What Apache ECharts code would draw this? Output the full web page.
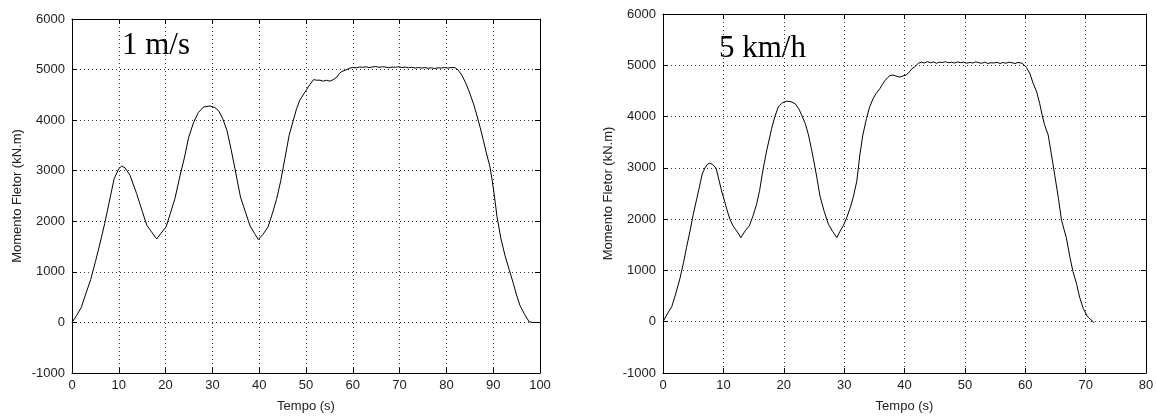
<!DOCTYPE html>
<html>
<head>
<meta charset="utf-8">
<script src="https://cdn.jsdelivr.net/npm/echarts@6/dist/echarts.min.js"></script>
<style>
html,body{margin:0;padding:0;background:#fff;}
#c{width:1157px;height:418px;}
</style>
</head>
<body>
<div id="c"></div>
<script>
// ---- Data: 1 m/s (left) ----
const timeA = [0,1,2,3,4,5,6,7,8,9,10,10.6,11.3,12.4,13.8,15,16,17,18.1,19,20.1,21,22,23.1,24,24.9,26,27,28.1,29.5,30.5,31.3,32.2,33.1,34,34.8,36,37,38,39,39.8,40.8,41.9,42.8,43.7,44.6,45.5,46.4,47.3,48,48.7,49.4,50.1,50.8,51.6,52.3,53,53.7,54.4,55.1,55.8,56.6,57.1,57.6,58.5,59.4,60,60.7,61.4,62.1,62.8,63.5,64.2,64.9,65.6,66.3,67,67.7,68.4,69.1,69.8,70.5,71.2,71.9,72.6,73.3,74,74.7,75.4,76.1,76.8,77.5,78.2,78.9,79.6,80.3,81,81.8,82.5,83.3,84.2,85,85.8,86.5,87.2,87.9,88.6,89.3,89.8,90.4,90.8,91.6,92.5,93.4,94.3,95,95.7,96.7,97.7,98.5,99.3,100];
const momentA = [0,140,300,580,850,1200,1570,1960,2400,2840,3040,3090,3060,2910,2550,2200,1920,1790,1650,1760,1890,2150,2450,2910,3250,3650,3960,4150,4260,4280,4250,4190,4030,3800,3420,3050,2480,2200,1920,1760,1640,1740,1890,2150,2430,2800,3250,3700,4000,4230,4400,4500,4600,4700,4800,4790,4790,4770,4790,4770,4800,4850,4920,4960,4990,5030,5040,5035,5050,5045,5055,5040,5050,5060,5045,5055,5050,5035,5050,5045,5055,5040,5050,5035,5045,5030,5040,5030,5040,5025,5035,5020,5035,5030,5040,5030,5040,5040,4990,4890,4720,4530,4320,4100,3860,3600,3330,3080,2800,2400,2100,1680,1330,1050,770,540,340,160,10,0,0,0];

// ---- Data: 5 km/h (right) ----
const timeB = [0,0.7,1.44,2.1,2.8,3.4,3.9,4.5,5,5.6,6.1,6.5,6.95,7.3,7.67,8.2,8.8,9.2,9.7,10.2,10.65,11.1,11.6,12.2,12.9,13.6,14.3,14.9,15.5,16,16.6,17.2,18,18.5,19.1,19.8,20.5,21.2,21.9,22.5,23,23.6,24.1,24.5,24.9,25.5,26,26.7,27.4,28.1,28.8,29.3,29.85,30.4,31,31.5,32.1,32.6,33.1,33.7,34.2,34.8,35.3,35.9,36.3,36.75,37.2,37.6,38.1,38.6,39.2,39.7,40.3,40.8,41.2,41.7,42.3,42.8,43.3,43.8,44.3,44.8,45.3,45.8,46.3,46.8,47.3,47.8,48.3,48.8,49.3,49.8,50.3,50.8,51.3,51.8,52.3,52.8,53.3,53.8,54.3,54.8,55.3,55.8,56.3,56.8,57.3,57.8,58.3,58.8,59.5,60.2,60.8,61.3,61.9,62.4,62.8,63.2,63.8,64.35,64.9,65.5,66,66.8,67.4,67.9,68.5,69,69.6,70.25,71.4];
const momentB = [0,150,290,540,840,1150,1450,1780,2090,2400,2670,2880,3000,3060,3090,3070,2990,2800,2550,2350,2160,1990,1870,1770,1640,1770,1870,2060,2290,2560,2990,3350,3770,3990,4190,4270,4300,4290,4250,4150,4020,3850,3640,3420,3180,2800,2450,2150,1900,1760,1640,1760,1870,2020,2220,2420,2740,3250,3640,3960,4180,4350,4450,4540,4620,4700,4760,4800,4810,4790,4770,4790,4810,4870,4930,4970,5040,5060,5045,5070,5050,5065,5040,5060,5055,5070,5050,5060,5045,5065,5050,5060,5040,5055,5045,5065,5050,5040,5060,5035,5050,5045,5060,5035,5055,5040,5060,5050,5035,5055,5040,4960,4830,4650,4480,4250,4030,3840,3640,3250,2850,2400,1980,1640,1260,980,740,480,260,110,-20,-15];

const yTicksMin = -1000, yTicksMax = 6000, yStep = 1000;
const xMaxA = 100, xMaxB = 80, xStep = 10;
const labelA = '1 m/s', labelB = '5 km/h';
const xName = 'Tempo (s)', yName = 'Momento Fletor (kN.m)';

const pairs = (t, m) => t.map((v, i) => [v, m[i]]);

const font = 'Liberation Sans, Arial, sans-serif';
const lblCol = '#222';
const lineCol = '#000';
const plain = v => String(v);

function mainX(grid, max) {
  return {
    gridIndex: grid, type: 'value', min: 0, max: max, interval: xStep, position: 'bottom',
    axisLine: {show: true, onZero: false, lineStyle: {color: lineCol, width: 1}},
    axisTick: {show: true, inside: true, length: 5, lineStyle: {color: lineCol}},
    axisLabel: {show: true, margin: 6, color: lblCol, fontFamily: font, fontSize: 13, formatter: plain},
    splitLine: {show: true, lineStyle: {color: '#333', type: [1, 3], width: 1}},
    name: xName, nameLocation: 'middle', nameGap: 27,
    nameTextStyle: {color: lblCol, fontFamily: font, fontSize: 13}
  };
}
function topX(grid, max) {
  return {
    gridIndex: grid, type: 'value', min: 0, max: max, interval: xStep, position: 'top',
    axisLine: {show: true, onZero: false, lineStyle: {color: lineCol, width: 1}},
    axisTick: {show: true, inside: true, length: 5, lineStyle: {color: lineCol}},
    axisLabel: {show: false}, splitLine: {show: false}
  };
}
function mainY(grid) {
  return {
    gridIndex: grid, type: 'value', min: yTicksMin, max: yTicksMax, interval: yStep, position: 'left',
    axisLine: {show: true, onZero: false, lineStyle: {color: lineCol, width: 1}},
    axisTick: {show: true, inside: true, length: 5, lineStyle: {color: lineCol}},
    axisLabel: {show: true, margin: 7, color: lblCol, fontFamily: font, fontSize: 13, formatter: plain},
    splitLine: {show: true, lineStyle: {color: '#333', type: [1, 3], width: 1}},
    name: yName, nameLocation: 'middle', nameGap: 48, nameRotate: 90,
    nameTextStyle: {color: lblCol, fontFamily: font, fontSize: 13}
  };
}
function rightY(grid) {
  return {
    gridIndex: grid, type: 'value', min: yTicksMin, max: yTicksMax, interval: yStep, position: 'right',
    axisLine: {show: true, onZero: false, lineStyle: {color: lineCol, width: 1}},
    axisTick: {show: true, inside: true, length: 5, lineStyle: {color: lineCol}},
    axisLabel: {show: false}, splitLine: {show: false}
  };
}

const chart = echarts.init(document.getElementById('c'), null, {renderer: 'canvas'});
chart.setOption({
  backgroundColor: '#fff',
  animation: false,
  grid: [
    {left: 72, top: 19, width: 468, height: 354},
    {left: 663, top: 14, width: 483, height: 364}
  ],
  xAxis: [mainX(0, xMaxA), topX(0, xMaxA), mainX(1, xMaxB), topX(1, xMaxB)],
  yAxis: [mainY(0), rightY(0), mainY(1), rightY(1)],
  graphic: [
    {type: 'text', left: 122, top: 30, style: {text: labelA, font: '31px "Liberation Serif", "Times New Roman", serif', fill: '#000'}},
    {type: 'text', left: 719, top: 33, style: {text: labelB, font: '31px "Liberation Serif", "Times New Roman", serif', fill: '#000'}}
  ],
  series: [
    {type: 'line', xAxisIndex: 0, yAxisIndex: 0, data: pairs(timeA, momentA), showSymbol: false, lineStyle: {color: '#000', width: 1}, silent: true},
    {type: 'line', xAxisIndex: 2, yAxisIndex: 2, data: pairs(timeB, momentB), showSymbol: false, lineStyle: {color: '#000', width: 1}, silent: true}
  ]
});
</script>
</body>
</html>
